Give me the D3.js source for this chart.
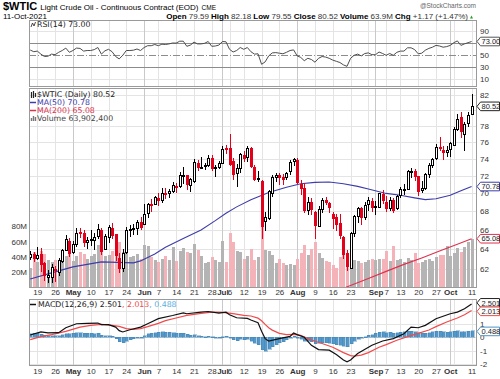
<!DOCTYPE html>
<html><head><meta charset="utf-8">
<script src="https://cdn.jsdelivr.net/npm/d3@7"></script>
<style>body{margin:0;background:#fff}svg{display:block}text{font-family:"Liberation Sans",Arial,sans-serif}</style>
</head><body>
<svg id="chart" width="500" height="379"></svg>
<script>
// ---------------- DATA ----------------
const dates = ["2021-04-15","2021-04-16","2021-04-19","2021-04-20","2021-04-21","2021-04-22","2021-04-23","2021-04-26","2021-04-27","2021-04-28","2021-04-29","2021-04-30",
"2021-05-03","2021-05-04","2021-05-05","2021-05-06","2021-05-07","2021-05-10","2021-05-11","2021-05-12","2021-05-13","2021-05-14","2021-05-17","2021-05-18","2021-05-19","2021-05-20","2021-05-21","2021-05-24","2021-05-25","2021-05-26","2021-05-27","2021-05-28",
"2021-06-01","2021-06-02","2021-06-03","2021-06-04","2021-06-07","2021-06-08","2021-06-09","2021-06-10","2021-06-11","2021-06-14","2021-06-15","2021-06-16","2021-06-17","2021-06-18","2021-06-21","2021-06-22","2021-06-23","2021-06-24","2021-06-25","2021-06-28","2021-06-29","2021-06-30",
"2021-07-01","2021-07-02","2021-07-06","2021-07-07","2021-07-08","2021-07-09","2021-07-12","2021-07-13","2021-07-14","2021-07-15","2021-07-16","2021-07-19","2021-07-20","2021-07-21","2021-07-22","2021-07-23","2021-07-26","2021-07-27","2021-07-28","2021-07-29","2021-07-30",
"2021-08-02","2021-08-03","2021-08-04","2021-08-05","2021-08-06","2021-08-09","2021-08-10","2021-08-11","2021-08-12","2021-08-13","2021-08-16","2021-08-17","2021-08-18","2021-08-19","2021-08-20","2021-08-23","2021-08-24","2021-08-25","2021-08-26","2021-08-27","2021-08-30","2021-08-31",
"2021-09-01","2021-09-02","2021-09-03","2021-09-07","2021-09-08","2021-09-09","2021-09-10","2021-09-13","2021-09-14","2021-09-15","2021-09-16","2021-09-17","2021-09-20","2021-09-21","2021-09-22","2021-09-23","2021-09-24","2021-09-27","2021-09-28","2021-09-29","2021-09-30",
"2021-10-01","2021-10-04","2021-10-05","2021-10-06","2021-10-07","2021-10-08","2021-10-11"];

const priorClose = 63.15;
const opens = [63.15,63.50,63.11,63.49,62.59,61.15,61.24,62.03,61.71,62.83,
63.87,64.82,63.73,64.52,65.83,65.71,64.71,65.01,64.96,65.34,
65.96,64.03,65.24,66.23,65.55,63.10,62.05,63.73,66.06,66.10,
66.20,66.87,66.64,67.81,68.79,68.85,69.48,69.30,70.01,70.04,
70.32,70.80,70.84,72.07,72.14,71.00,71.46,73.56,73.08,73.11,
73.26,74.11,72.93,73.04,73.46,75.34,75.25,73.80,72.31,72.87,
74.43,74.28,75.35,72.99,71.70,71.43,66.91,67.26,70.09,71.83,
72.06,71.91,71.82,72.60,73.78,73.81,71.10,70.64,68.20,69.08,
67.98,66.40,68.27,69.23,68.89,67.75,67.37,66.70,65.29,63.59,
62.05,65.68,67.45,68.39,67.38,68.85,69.18,68.60,68.53,69.90,
69.05,68.40,69.27,68.35,69.85,70.45,70.46,72.55,72.60,71.97,
70.35,70.59,72.25,73.30,74.10,75.45,75.10,74.78,75.22,75.65,
77.70,79.20,77.05,78.40,79.59];
const highs = [63.79,63.73,64.21,64.07,62.67,61.93,62.48,62.32,63.08,63.98,
65.47,65.18,64.89,66.23,66.26,65.98,65.26,65.96,65.63,66.66,
66.16,65.58,66.48,66.79,65.62,63.63,64.01,66.35,66.53,66.61,
67.02,67.38,68.87,68.90,69.40,69.76,70.00,70.56,70.62,70.55,
71.24,71.15,72.40,72.99,72.14,71.80,73.96,73.89,74.25,73.56,
74.45,74.46,73.30,73.75,75.60,75.68,76.98,74.10,73.40,74.71,
74.96,75.52,75.46,73.26,72.54,71.49,67.92,70.40,72.13,72.36,
72.28,72.17,72.48,73.82,74.10,74.05,71.57,71.17,69.55,69.50,
68.05,68.63,69.50,69.60,69.02,67.91,67.75,67.76,65.38,63.87,
65.75,67.65,68.50,68.49,69.00,69.56,69.50,69.15,70.01,70.40,
69.70,69.65,69.44,69.82,70.73,71.08,72.72,72.88,72.80,72.00,
71.46,72.38,73.54,74.15,75.80,76.67,75.49,75.58,76.00,77.88,
79.48,79.78,78.47,79.76,82.18];
const lows = [62.86,62.70,62.90,61.73,60.82,60.61,60.63,60.73,61.33,62.54,
63.84,63.22,63.54,64.22,65.12,64.22,63.97,64.37,63.86,65.04,
63.35,63.93,64.61,65.01,62.78,61.56,61.71,63.51,65.24,65.42,
65.50,65.97,66.55,67.33,67.90,68.70,68.65,68.97,69.38,69.46,
70.03,70.10,70.60,71.08,70.36,70.20,71.15,72.58,72.85,72.68,
73.05,72.58,71.87,72.82,73.36,74.61,73.15,71.47,70.76,72.32,
73.60,73.64,72.92,71.40,71.24,65.01,65.93,67.04,69.62,71.26,
70.90,71.00,71.50,72.10,73.20,71.04,69.80,67.85,67.63,67.58,
65.01,66.37,67.80,68.70,67.80,66.14,65.90,65.01,62.97,61.74,
61.98,65.28,66.80,66.53,67.10,68.02,67.90,67.58,68.40,68.80,
67.99,68.05,67.78,68.13,69.45,69.82,70.39,71.78,71.41,69.66,
70.07,70.44,71.80,72.90,73.85,74.89,73.87,74.25,74.25,75.59,
77.45,76.57,74.96,77.90,79.55];
const closes = [63.46,63.13,63.38,62.44,61.35,61.43,62.14,61.91,62.94,63.86,
65.01,63.58,64.49,65.69,65.63,64.71,64.90,64.92,65.28,66.08,
63.82,65.37,66.27,65.49,63.36,62.05,63.58,66.05,66.07,66.21,
66.85,66.32,67.72,68.83,68.81,69.62,69.23,70.05,69.96,70.29,
70.91,70.88,72.12,72.15,71.04,71.64,73.66,73.06,73.08,73.30,
74.05,72.91,72.98,73.47,75.23,75.16,73.37,72.20,72.94,74.56,
74.10,75.25,73.13,71.65,71.81,66.42,67.42,70.30,71.91,72.07,
71.91,71.65,72.39,73.62,73.95,71.26,70.56,68.15,69.09,68.28,
66.48,68.29,69.25,69.09,68.44,67.29,66.59,65.46,63.50,62.32,
65.64,67.54,68.36,67.42,68.74,69.21,68.50,68.59,69.99,69.29,
68.35,69.30,68.14,69.72,70.45,70.46,72.61,72.61,71.97,70.29,
70.56,72.23,73.30,73.98,75.45,75.29,74.83,75.03,75.88,77.62,
78.93,77.43,78.30,79.35,80.52];
// volume in millions
const volumes = [26,46,33,48,44,36,34,36,32,38,
42,46,35,42,46,44,37,42,44,56,
50,41,43,48,64,60,47,49,40,42,
44,38,56,54,40,36,33,38,42,36,
53,35,48,52,46,45,57,49,41,32,
34,40,36,34,61,33,71,59,48,46,
38,42,51,36,40,84,49,48,43,32,
38,32,30,31,30,38,45,56,43,51,
59,45,39,35,33,29,26,40,48,44,
42,36,35,32,33,36,38,36,38,37,
48,35,54,36,38,34,39,36,45,32,
34,36,38,35,40,43,43,55,42,45,
52,46,53,60,63.9];
// RSI(14)
const rsiValues = [58.8,56,57,52,48,48.5,52,51,55,58,
62,55,58,62,61.5,57,58,58,59.5,63,
52,57.5,60,56,48,44,50,58,58,58.5,
60.5,58,63,66,66,68,66,68.5,68,69,
70.5,70.3,73.5,73.5,65,67,72,69,69,70,
73,65,65.5,67,73,72.5,60,55.5,58,63,
60,63,56,52,52.5,35,39,49,54,54.5,
53.5,52.5,55,58,59,49,46.5,41,45,43,
38.5,45,48,47,45,42,40,38,34,31.6,
45,50,52,49,53,54,51,51,55.5,53,
50,53,50,55,57,57,62.5,62.5,59.5,52.5,
53.5,58.5,61.5,63.5,66.5,65.5,63.5,64.5,66.5,71,
74,66.5,69,71,73.0];
// moving averages, read at sample days (index into dates)
const ma50Days = [0,6,12,20,29,31,35,38,43,48,52,55,58,62,67,72,76,80,84,88,92,95,100,104,108,111,114,118,121,124];
const ma50Values = [61.0,61.6,62.2,62.7,62.6,62.8,63.5,64.2,65.1,66.0,67.0,67.8,68.5,69.3,70.1,70.7,71.1,71.25,71.3,71.1,70.8,70.5,70.0,69.8,69.5,69.3,69.4,69.8,70.3,70.78];
const ma200Days = [88,95,100,105,110,115,120,124];
const ma200Values = [60.1,61.05,61.75,62.45,63.1,63.8,64.5,65.08];
// MACD(12,26,9)
const macdDays = [0,3,5,8,10,13,16,19,20,22,24,25,26,28,31,33,36,40,43,44,48,50,53,55,56,58,61,62,64,65,66,67,70,73,74,75,77,79,81,84,86,88,89,90,92,96,99,102,105,107,109,111,114,118,120,122,124];
const macdValues = [0.17,0.4,0.33,0.35,0.72,1.02,1.05,1.07,0.95,0.95,0.77,0.5,0.4,0.57,0.77,1.02,1.4,1.64,1.84,1.77,1.89,1.94,1.82,1.89,1.7,1.47,1.42,1.3,1.1,0.45,-0.1,-0.28,-0.1,0.07,0.32,0.2,0.0,-0.6,-0.92,-0.97,-1.3,-1.7,-1.84,-1.7,-1.22,-0.6,-0.28,-0.1,0.27,0.77,0.72,0.9,1.4,1.77,1.89,2.14,2.501];
const signalDays = [0,3,6,10,14,17,20,23,25,27,29,31,33,36,38,41,44,48,51,54,57,60,62,64,65,66,67,68,70,72,74,76,78,80,82,85,88,90,91,93,95,98,100,103,106,109,112,114,117,120,122,124];
const signalValues = [-0.17,0.05,0.2,0.45,0.77,0.9,0.97,0.9,0.82,0.65,0.6,0.65,0.8,1.05,1.25,1.45,1.65,1.8,1.89,1.87,1.78,1.65,1.6,1.44,1.24,0.97,0.72,0.54,0.3,0.2,0.22,0.15,-0.1,-0.3,-0.47,-0.75,-1.15,-1.38,-1.42,-1.34,-1.15,-0.75,-0.55,-0.22,0.05,0.3,0.55,0.8,1.15,1.45,1.7,2.013];
const histValues = [0.25,0.3,0.3,0.22,0.15,0.12,0.12,0.1,0.12,0.18,
0.25,0.28,0.3,0.33,0.35,0.3,0.3,0.3,0.28,0.3,
0.15,0.1,0.12,0.08,-0.12,-0.35,-0.4,-0.3,-0.2,-0.12,
-0.05,0.0,0.12,0.25,0.3,0.35,0.38,0.4,0.38,0.38,
0.36,0.32,0.32,0.3,0.22,0.15,0.18,0.12,0.08,0.06,
0.08,0.04,0.0,-0.02,0.05,0.08,-0.05,-0.2,-0.25,-0.15,
-0.2,-0.15,-0.28,-0.45,-0.55,-0.95,-1.05,-0.9,-0.7,-0.55,
-0.42,-0.32,-0.2,-0.05,0.08,-0.05,-0.15,-0.3,-0.3,-0.35,
-0.5,-0.45,-0.4,-0.4,-0.45,-0.5,-0.55,-0.6,-0.68,-0.72,
-0.5,-0.3,-0.15,-0.05,0.05,0.15,0.2,0.3,0.38,0.4,
0.35,0.38,0.32,0.35,0.38,0.4,0.45,0.45,0.42,0.35,
0.3,0.32,0.36,0.4,0.45,0.45,0.4,0.38,0.4,0.46,
0.5,0.42,0.4,0.45,0.488];
// x-axis ticks
const tickDates = ["2021-04-19","2021-04-26","2021-05-03","2021-05-10","2021-05-17","2021-05-24","2021-06-01","2021-06-07","2021-06-14","2021-06-21","2021-06-28","2021-07-01","2021-07-06","2021-07-12","2021-07-19","2021-07-26","2021-08-02","2021-08-09","2021-08-16","2021-08-23","2021-09-01","2021-09-07","2021-09-13","2021-09-20","2021-09-27","2021-10-01","2021-10-11"];
const tickLabels = ["19","26","May","10","17","24","Jun","7","14","21","28","Jul","6","12","19","26","Aug","9","16","23","Sep","7","13","20","27","Oct","11"];
const weekStarts = ["2021-04-19","2021-04-26","2021-05-03","2021-05-10","2021-05-17","2021-05-24","2021-06-01","2021-06-07","2021-06-14","2021-06-21","2021-06-28","2021-07-06","2021-07-12","2021-07-19","2021-07-26","2021-08-02","2021-08-09","2021-08-16","2021-08-23","2021-08-30","2021-09-07","2021-09-13","2021-09-20","2021-09-27","2021-10-04","2021-10-11"];
const monthStarts = ["2021-05-03","2021-06-01","2021-07-01","2021-08-02","2021-09-01","2021-10-01"];
const priceTicks = [62,64,66,68,70,72,74,76,78,80,82];
const volumeTicks = [20,40,60,80];
const rsiTicks = [10,30,50,70,90];
const macdTicks = [-2,-1,0,1,2];

// ---------------- DRAW ----------------
const svg = d3.select("#chart");
const L = 29, R = 477;
const panels = {rsi:[20.5,86.5], main:[88.5,287.5], macd:[299.5,365.5]};
const x = d3.scalePoint().domain(dates).range([30.2, 471.6]);
const xr = d => Math.round(x(d)) + 0.5;
const yP = d3.scaleLog().domain([60.15, 82.8]).range([287.7, 89]);
const yV = d3.scaleLinear().domain([0, 80]).range([287.7, 226.4]);
const yR = d3.scaleLinear().domain([0, 100]).range([85.3, 25.3]);
const yM = d3.scaleLinear().domain([-2, 2]).range([363.9, 310.7]);

const gridLight = "#e4e4e4", gridMonth = "#c9c9c9";
const gridDates = Array.from(new Set(weekStarts.concat(monthStarts)));

function panelGrid(p, yScale, hticks) {
  const g = svg.append("g").attr("shape-rendering","crispEdges");
  g.selectAll("line.h").data(hticks).join("line")
    .attr("x1", L).attr("x2", R)
    .attr("y1", d => Math.round(yScale(d)) + 0.5).attr("y2", d => Math.round(yScale(d)) + 0.5)
    .attr("stroke", gridLight);
  g.selectAll("line.v").data(gridDates).join("line")
    .attr("x1", xr).attr("x2", xr).attr("y1", p[0]).attr("y2", p[1])
    .attr("stroke", d => monthStarts.includes(d) ? gridMonth : gridLight);
}
panelGrid(panels.rsi, yR, [10, 90]);
panelGrid(panels.main, yP, priceTicks);
panelGrid(panels.macd, yM, macdTicks);

// RSI reference lines
const rsiRef = svg.append("g").attr("shape-rendering","crispEdges");
[30,70].forEach(v => rsiRef.append("line").attr("x1",L).attr("x2",R)
  .attr("y1",Math.round(yR(v))+0.5).attr("y2",Math.round(yR(v))+0.5).attr("stroke","#8c8c8c"));
rsiRef.append("line").attr("x1",L).attr("x2",R)
  .attr("y1",Math.round(yR(50))+0.5).attr("y2",Math.round(yR(50))+0.5)
  .attr("stroke","#8c8c8c").attr("stroke-dasharray","7,2,1,2");

// RSI line
svg.append("path").datum(rsiValues)
  .attr("d", d3.line().x((v,i)=>x(dates[i])).y(v=>yR(v)))
  .attr("fill","none").attr("stroke","#4d4d4d").attr("stroke-width",1);

// main panel
svg.append("clipPath").attr("id","clipMain").append("rect")
  .attr("x",L).attr("y",panels.main[0]).attr("width",R-L).attr("height",panels.main[1]-panels.main[0]);
const gMain = svg.append("g").attr("clip-path","url(#clipMain)");

const bars = dates.map((d,i)=>({d, o:opens[i], h:highs[i], l:lows[i], c:closes[i], v:volumes[i],
  up: closes[i] >= (i ? closes[i-1] : priorClose)}));

gMain.append("g").attr("shape-rendering","crispEdges").selectAll("rect").data(bars).join("rect")
  .attr("x", b => Math.round(x(b.d)) - 1).attr("width", 3)
  .attr("y", b => yV(b.v)).attr("height", b => yV(0) - yV(b.v))
  .attr("fill", b => b.up ? "#b4b4b4" : "#f3b3b9");

// MAs
const ma50Line = d3.line().x((v,i)=>x(dates[ma50Days[i]])).y(v=>yP(v));
gMain.append("path").datum(ma50Values).attr("d", ma50Line)
  .attr("fill","none").attr("stroke","#3c3caa").attr("stroke-width",1.1);
const ma200Line = d3.line().x((v,i)=>x(dates[ma200Days[i]])).y(v=>yP(v));
gMain.append("path").datum(ma200Values).attr("d", ma200Line)
  .attr("fill","none").attr("stroke","#e0304d").attr("stroke-width",1.1);

// candles
const gC = gMain.append("g").attr("shape-rendering","crispEdges");
bars.forEach(b => {
  const col = b.up ? "#000" : "#e3001b";
  const cx = xr(b.d);
  gC.append("line").attr("x1",cx).attr("x2",cx).attr("y1",yP(b.h)).attr("y2",yP(b.l)).attr("stroke",col);
  const top = Math.round(yP(Math.max(b.o,b.c))), bot = Math.round(yP(Math.min(b.o,b.c)));
  const filled = b.c < b.o;
  gC.append("rect").attr("x", cx-1).attr("y", top+0.5).attr("width", 2).attr("height", Math.max(1, bot-top))
    .attr("fill", filled ? col : "#fff").attr("stroke", col).attr("stroke-width",1);
});

// MACD histogram
svg.append("g").attr("shape-rendering","crispEdges").selectAll("rect").data(histValues).join("rect")
  .attr("x",(v,i)=>Math.round(x(dates[i]))-1).attr("width",3)
  .attr("y",v=>Math.min(yM(v),yM(0))).attr("height",v=>Math.max(1,Math.abs(yM(v)-yM(0))))
  .attr("fill","#5398c9").attr("stroke","#3d7fb2").attr("stroke-width",0.4);
svg.append("path").datum(signalValues)
  .attr("d", d3.line().x((v,i)=>x(dates[signalDays[i]])).y(v=>yM(v)))
  .attr("fill","none").attr("stroke","#f24a4a").attr("stroke-width",1.2);
svg.append("path").datum(macdValues)
  .attr("d", d3.line().x((v,i)=>x(dates[macdDays[i]])).y(v=>yM(v)))
  .attr("fill","none").attr("stroke","#111").attr("stroke-width",1.2);

// frames
Object.values(panels).forEach(p => svg.append("rect").attr("x",L+0.5).attr("y",p[0]).attr("width",R-L-1).attr("height",p[1]-p[0])
  .attr("fill","none").attr("stroke","#9a9a9a").attr("shape-rendering","crispEdges"));

// value boxes (positions first, so axis labels hidden beneath them can be skipped)
const boxes = [
  {v:73.0, s:yR, txt:"73.00", stroke:"#555"},
  {v:80.52, s:yP, txt:"80.52", stroke:"#222"},
  {v:70.78, s:yP, txt:"70.78", stroke:"#3c3caa"},
  {v:65.08, s:yP, txt:"65.08", stroke:"#e0304d"},
  {v:2.501, s:yM, txt:"2.501", stroke:"#222", dy:-1.2},
  {v:2.013, s:yM, txt:"2.013", stroke:"#f24a4a", dy:0.8},
  {v:0.488, s:yM, txt:"0.488", stroke:"#4f94c6", dy:0.6}
];
boxes.forEach(b => b.y = b.s(b.v) + (b.dy || 0));
const hidden = (s, t) => boxes.some(b => b.s === s && Math.abs(s(t) - b.y) < 5);

// axes
function styleAxis(g){ g.select(".domain").remove(); g.selectAll(".tick line").remove();
  g.selectAll("text").attr("fill","#333").style("font-size","8px").style("font-family","'Liberation Sans',Arial,sans-serif"); }
svg.append("g").attr("transform","translate(478,0)").call(d3.axisRight(yP).tickValues(priceTicks.filter(t=>!hidden(yP,t))).tickFormat(d3.format("d")).tickSize(0).tickPadding(2)).call(styleAxis);
svg.append("g").attr("transform","translate(478,0)").call(d3.axisRight(yR).tickValues(rsiTicks.filter(t=>!hidden(yR,t))).tickSize(0).tickPadding(2)).call(styleAxis);
svg.append("g").attr("transform","translate(478,0)").call(d3.axisRight(yM).tickValues(macdTicks.filter(t=>!hidden(yM,t))).tickFormat(d=>d).tickSize(0).tickPadding(2)).call(styleAxis);
svg.append("g").attr("transform","translate(28,0)").call(d3.axisLeft(yV).tickValues(volumeTicks).tickFormat(d=>d+"M").tickSize(0).tickPadding(1)).call(styleAxis);

function xAxis(yPos){
  const g = svg.append("g").attr("transform",`translate(0,${yPos})`)
    .call(d3.axisBottom(x).tickValues(tickDates).tickFormat((d,i)=>tickLabels[i]).tickSize(0).tickPadding(0));
  styleAxis(g);
  g.selectAll("text").style("font-weight",(d,i)=>/[A-Za-z]/.test(tickLabels[i]) ? "bold" : "normal");
}
xAxis(289);
xAxis(368);

boxes.forEach(b => {
  const y = b.y, h = 4.3;
  const g = svg.append("g");
  g.append("path").attr("d",`M477,${y} L480.5,${y-h} L499.5,${y-h} L499.5,${y+h} L480.5,${y+h} Z`)
    .attr("fill","#fff").attr("stroke",b.stroke).attr("stroke-width",1);
  g.append("text").attr("x",481.5).attr("y",y+2.7).attr("fill","#222").style("font-size","7.5px").text(b.txt);
});

// legends
const lf = "'DejaVu Sans',Verdana,sans-serif";
function ltext(xp, yp, parts){
  const t = svg.append("text").attr("x",xp).attr("y",yp).style("font-size","7.8px").style("font-family",lf);
  parts.forEach(p => t.append("tspan").attr("fill",p[1]).text(p[0]));
}
// RSI icon
svg.append("path").attr("d","M31,27 L32.5,23 L34,26 L35.5,22").attr("fill","none").attr("stroke","#333").attr("stroke-width",0.9);
ltext(37, 27, [["RSI(14) 73.00","#222"]]);
// price icon
svg.append("path").attr("d","M31.5,92 V98 M33.5,91 V98 M35.5,93 V97").attr("stroke","#222").attr("stroke-width",1.2);
ltext(37, 97, [["$WTIC (Daily) 80.52","#222"]]);
svg.append("line").attr("x1",30).attr("x2",36).attr("y1",102.5).attr("y2",102.5).attr("stroke","#3c3caa").attr("stroke-width",1.5);
ltext(37, 105, [["MA(50) 70.78","#3c3caa"]]);
svg.append("line").attr("x1",30).attr("x2",36).attr("y1",110.5).attr("y2",110.5).attr("stroke","#e0304d").attr("stroke-width",1.5);
ltext(37, 113, [["MA(200) 65.08","#e0304d"]]);
svg.append("path").attr("d","M31.5,121 V118 M33.5,121 V116 M35.5,121 V117").attr("stroke","#777").attr("stroke-width",1.4);
ltext(37, 121, [["Volume 63,902,400","#444"]]);
svg.append("line").attr("x1",30).attr("x2",36).attr("y1",304.5).attr("y2",304.5).attr("stroke","#111").attr("stroke-width",1.5);
ltext(38, 307, [["MACD(12,26,9) 2.501","#222"],[", 2.013","#f24a4a"],[", 0.488","#5aaee0"]]);

// header
const hdr = svg.append("text").attr("x",3).attr("y",10);
hdr.append("tspan").style("font-size","11px").style("font-weight","bold").text("$WTIC");
hdr.append("tspan").style("font-size","8px").attr("dx",3).text("Light Crude Oil - Continuous Contract (EOD)");
hdr.append("tspan").style("font-size","6.5px").attr("dx",3).text("CME");
svg.append("text").attr("x",3).attr("y",19).style("font-size","8px").text("11-Oct-2021");
svg.append("text").attr("x",476).attr("y",7.5).attr("text-anchor","end").attr("fill","#666").style("font-size","6.5px").text("@StockCharts.com");
const info = svg.append("text").attr("x",468).attr("y",19).attr("text-anchor","end").style("font-size","8px");
[["Open ","b"],["79.59 ",""],["High ","b"],["82.18 ",""],["Low ","b"],["79.55 ",""],["Close ","b"],["80.52 ",""],["Volume ","b"],["63.9M ",""],["Chg ","b"],["+1.17 (+1.47%)",""]]
  .forEach(p => info.append("tspan").style("font-weight", p[1]==="b"?"bold":"normal").attr("fill", p[1]==="b"?"#000":"#333").text(p[0]));
svg.append("path").attr("d","M470,18.5 L473,18.5 L471.5,15.5 Z").attr("fill","#2a9d2a");
</script>
</body></html>
